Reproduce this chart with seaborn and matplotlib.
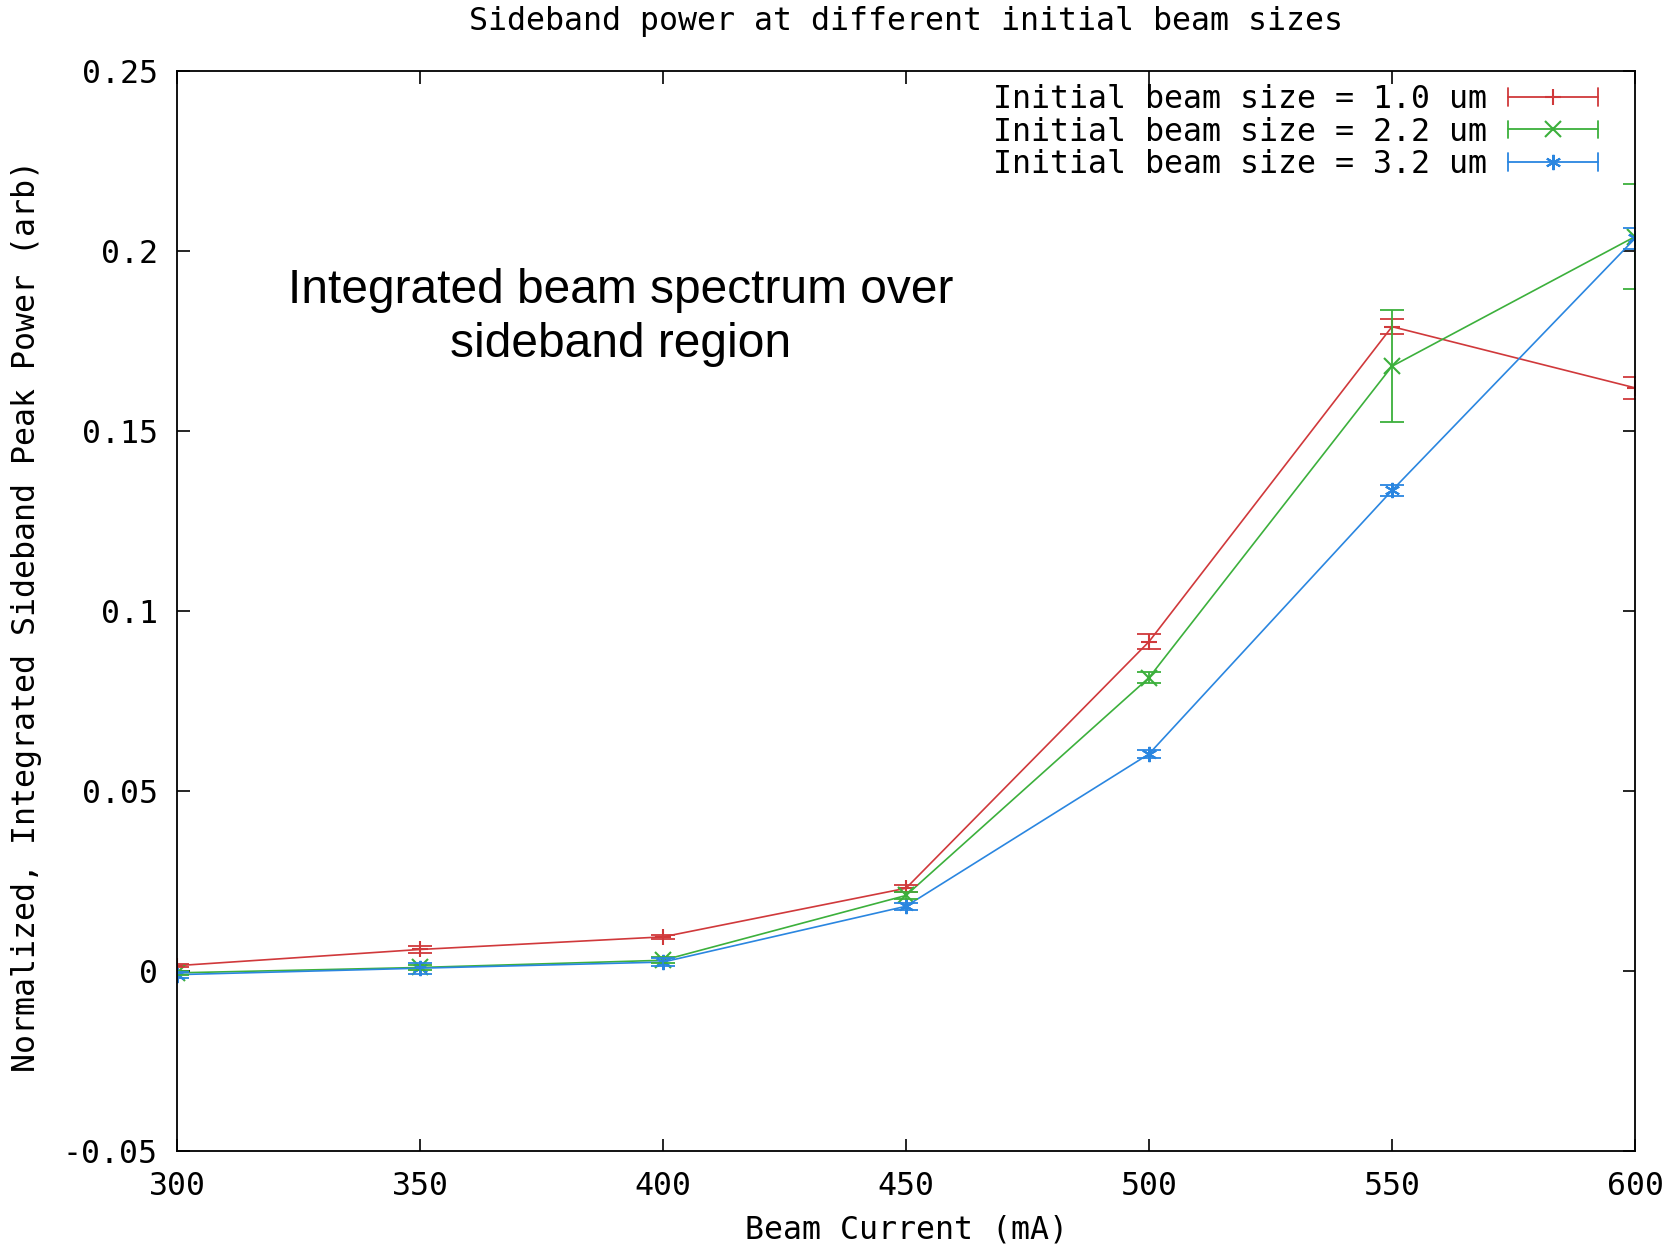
import matplotlib
matplotlib.use("Agg")
import numpy as np
import pandas as pd
import seaborn as sns
import matplotlib.pyplot as plt
from matplotlib.lines import Line2D
from matplotlib.legend_handler import HandlerBase

# beam current (mA)
current = [300, 350, 400, 450, 500, 550, 600]

# normalized integrated sideband peak power, one list per initial beam size
power_1_0 = [0.0015, 0.006, 0.0095, 0.023, 0.0915, 0.179, 0.162]
err_1_0 = [0.0005, 0.001, 0.0005, 0.001, 0.002, 0.002, 0.003]
power_2_2 = [-0.0005, 0.001, 0.003, 0.021, 0.0815, 0.168, 0.204]
err_2_2 = [0.0005, 0.0008, 0.0008, 0.001, 0.0015, 0.0155, 0.0145]
power_3_2 = [-0.001, 0.0008, 0.0025, 0.018, 0.0603, 0.1335, 0.2035]
err_3_2 = [0.0008, 0.0015, 0.001, 0.001, 0.001, 0.0015, 0.003]

labels = ["Initial beam size = 1.0 um",
          "Initial beam size = 2.2 um",
          "Initial beam size = 3.2 um"]
colors = ["#d0393b", "#3cb03c", "#2a86e0"]
markers = ["+", "x", (6, 2, 0)]

series = [(power_1_0, err_1_0), (power_2_2, err_2_2), (power_3_2, err_3_2)]

# long-form table for seaborn
rows = []
for lab, (p, e) in zip(labels, series):
    for c, v, s in zip(current, p, e):
        rows.append({"current": c, "power": v, "err": s, "size": lab})
df = pd.DataFrame(rows)

sns.set_style("ticks")
plt.rcParams["font.family"] = ["DejaVu Sans Mono"]
plt.rcParams["text.color"] = "black"
fs = 22.8

fig = plt.figure(figsize=(16.79, 12.44), dpi=100)
ax = fig.add_axes([0.1054, 0.0747, 0.8684, 0.8682])

sns.lineplot(data=df, x="current", y="power", hue="size", style="size",
             palette=colors, markers=markers, dashes=False, markersize=11,
             linewidth=1.2, legend=False, ax=ax)
# seaborn gives markers a white edge, which hides + and x
for line in ax.lines:
    line.set_markeredgecolor(line.get_color())
    line.set_markeredgewidth(1.5)

for (p, e), col in zip(series, colors):
    ax.errorbar(current, p, yerr=e, fmt="none", ecolor=col, elinewidth=1.3,
                capsize=8.5, capthick=1.3)

ax.set_xlim(300, 600)
ax.set_ylim(-0.05, 0.25)
ax.set_xticks([300, 350, 400, 450, 500, 550, 600])
ax.set_yticks([-0.05, 0, 0.05, 0.1, 0.15, 0.2, 0.25])
ax.set_yticklabels(["-0.05", "0", "0.05", "0.1", "0.15", "0.2", "0.25"])
ax.tick_params(direction="in", length=9, width=1.2, top=True, right=True,
               labelsize=fs, pad=14, colors="black")
for sp in ax.spines.values():
    sp.set_linewidth(1.3)
    sp.set_color("black")
ax.set_xlabel("")
ax.set_ylabel("")


# gnuplot style legend sample: line with end caps and the point in the middle
class CapHandler(HandlerBase):
    def create_artists(self, legend, orig, xdescent, ydescent, width, height,
                       fontsize, trans):
        col = orig.get_color()
        y = height / 2 - ydescent
        x0, x1 = -xdescent, -xdescent + width
        h = height * 0.4
        arts = [Line2D([x0, x1], [y, y], color=col, lw=1.3),
                Line2D([x0, x0], [y - h, y + h], color=col, lw=1.3),
                Line2D([x1, x1], [y - h, y + h], color=col, lw=1.3),
                Line2D([(x0 + x1) / 2], [y], color=col, marker=orig.get_marker(),
                       markersize=11, markeredgewidth=1.5, linestyle="none")]
        for a in arts:
            a.set_transform(trans)
        return arts


handles = [Line2D([], [], color=c, marker=m) for c, m in zip(colors, markers)]
ax.legend(handles, labels, loc="upper right", bbox_to_anchor=(0.9746, 0.988),
          frameon=False, markerfirst=False, fontsize=fs, labelspacing=0.05,
          handlelength=2.84, handletextpad=0.66, borderpad=0, borderaxespad=0,
          handler_map={Line2D: CapHandler()})

ax.text(0.3045, 0.772, "Integrated beam spectrum over\nsideband region",
        transform=ax.transAxes, ha="center", va="center", fontsize=34.5,
        family=["Liberation Sans"], linespacing=1.25, color="black")

fig.text(0.5397, 0.983, "Sideband power at different initial beam sizes",
         ha="center", va="center", fontsize=fs)
fig.text(0.5397, 0.011, "Beam Current (mA)", ha="center", va="center",
         fontsize=fs)
fig.text(0.016, 0.505, "Normalized, Integrated Sideband Peak Power (arb)",
         ha="center", va="center", rotation=90, fontsize=fs)

fig.savefig("out.png", dpi=100)
